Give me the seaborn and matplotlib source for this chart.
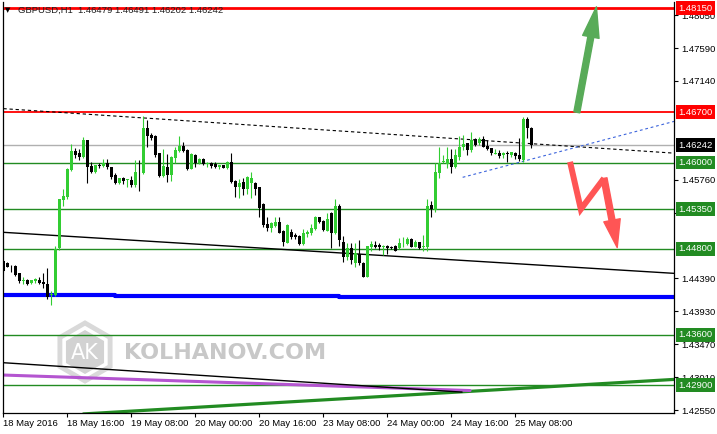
import numpy as np
import pandas as pd
import matplotlib
matplotlib.use("Agg")
import matplotlib.pyplot as plt
import seaborn as sns
from matplotlib.patches import RegularPolygon

# ---------------- data ----------------
symbol = "GBPUSD,H1"
header_ohlc = ["1.46479", "1.46491", "1.46202", "1.46242"]

opens = [1.44632, 1.44604, 1.44563, 1.44559, 1.44457, 1.44346, 1.44360, 1.44322, 1.44346, 1.44360,
         1.44336, 1.44314, 1.44150, 1.44154, 1.44805, 1.45478, 1.45516, 1.45897, 1.46157, 1.46138,
         1.46074, 1.46315, 1.45952, 1.45869, 1.45967, 1.45952, 1.45990, 1.45934, 1.45823, 1.45720,
         1.45781, 1.45753, 1.45757, 1.45684, 1.45860, 1.45851, 1.46478, 1.46384, 1.46370, 1.46129,
         1.45813, 1.45943, 1.45827, 1.46060, 1.46166, 1.46231, 1.46175, 1.45916, 1.46106, 1.45998,
         1.46050, 1.45985, 1.45990, 1.45976, 1.45943, 1.45963, 1.45920, 1.46012, 1.45748, 1.45656,
         1.45734, 1.45637, 1.45712, 1.45720, 1.45656, 1.45418, 1.45144, 1.45088, 1.45116, 1.45176,
         1.45050, 1.44883, 1.45036, 1.44990, 1.44976, 1.44865, 1.45004, 1.45013, 1.45074, 1.45235,
         1.45185, 1.45050, 1.45290, 1.45013, 1.45399, 1.44896, 1.44680, 1.44805, 1.44604, 1.44725,
         1.44604, 1.44409, 1.44818, 1.44851, 1.44851, 1.44827, 1.44841, 1.44827, 1.44837, 1.44805,
         1.44874, 1.44865, 1.44930, 1.44827, 1.44888, 1.44823, 1.44827, 1.45408, 1.45339, 1.45860,
         1.46012, 1.45980, 1.46047, 1.45943, 1.46083, 1.46213, 1.46268, 1.46175, 1.46324, 1.46268,
         1.46324, 1.46231, 1.46199, 1.46124, 1.46138, 1.46106, 1.46133, 1.46106, 1.46138, 1.46106,
         1.46036, 1.46607, 1.46479]
highs = [1.44645, 1.44614, 1.44576, 1.44568, 1.44465, 1.44409, 1.44384, 1.44370, 1.44392, 1.44409,
         1.44465, 1.44526, 1.44206, 1.44837, 1.45497, 1.45631, 1.45920, 1.46255, 1.46200, 1.46193,
         1.46361, 1.46315, 1.46012, 1.45967, 1.45998, 1.46047, 1.46047, 1.45943, 1.45860, 1.45790,
         1.45805, 1.45771, 1.45813, 1.46036, 1.46036, 1.46650, 1.46593, 1.46408, 1.46384, 1.46138,
         1.46185, 1.46120, 1.46092, 1.46221, 1.46370, 1.46287, 1.46185, 1.46138, 1.46115, 1.46068,
         1.46068, 1.46012, 1.46012, 1.46012, 1.45967, 1.45967, 1.46022, 1.46138, 1.45757, 1.45771,
         1.45781, 1.45813, 1.45873, 1.45734, 1.45664, 1.45432, 1.45245, 1.45176, 1.45237, 1.45237,
         1.45060, 1.45139, 1.45074, 1.45013, 1.44990, 1.45069, 1.45060, 1.45144, 1.45259, 1.45245,
         1.45199, 1.45300, 1.45315, 1.45492, 1.45422, 1.44976, 1.44874, 1.44883, 1.44883, 1.44920,
         1.44614, 1.44841, 1.44910, 1.44906, 1.44874, 1.44851, 1.44851, 1.44837, 1.44851, 1.44952,
         1.44967, 1.44967, 1.44944, 1.44920, 1.44896, 1.44990, 1.45488, 1.45464, 1.45998, 1.46221,
         1.46106, 1.46221, 1.46185, 1.46185, 1.46370, 1.46384, 1.46277, 1.46422, 1.46338, 1.46361,
         1.46370, 1.46315, 1.46208, 1.46185, 1.46175, 1.46152, 1.46166, 1.46152, 1.46152, 1.46338,
         1.46631, 1.46631, 1.46491]
lows = [1.44479, 1.44540, 1.44479, 1.44423, 1.44326, 1.44307, 1.44293, 1.44314, 1.44322, 1.44314,
        1.44247, 1.44105, 1.44011, 1.44140, 1.44781, 1.45394, 1.45488, 1.45888, 1.46060, 1.46036,
        1.46060, 1.45720, 1.45851, 1.45860, 1.45929, 1.45943, 1.45911, 1.45768, 1.45702, 1.45702,
        1.45702, 1.45660, 1.45656, 1.45665, 1.45604, 1.45842, 1.46213, 1.46315, 1.46083, 1.45805,
        1.45805, 1.45734, 1.45747, 1.45991, 1.46152, 1.46152, 1.45897, 1.45906, 1.45934, 1.45980,
        1.45967, 1.45934, 1.45920, 1.45920, 1.45916, 1.45925, 1.45911, 1.45712, 1.45516, 1.45502,
        1.45545, 1.45559, 1.45502, 1.45545, 1.45245, 1.45098, 1.45050, 1.45036, 1.45106, 1.45013,
        1.44837, 1.44874, 1.44930, 1.44930, 1.44855, 1.44855, 1.44967, 1.44995, 1.45060, 1.45153,
        1.45050, 1.45041, 1.44813, 1.45004, 1.44837, 1.44610, 1.44642, 1.44586, 1.44549, 1.44572,
        1.44405, 1.44405, 1.44771, 1.44805, 1.44781, 1.44711, 1.44725, 1.44791, 1.44762, 1.44791,
        1.44827, 1.44851, 1.44818, 1.44818, 1.44791, 1.44771, 1.44771, 1.45245, 1.45315, 1.45781,
        1.45990, 1.45920, 1.45851, 1.45920, 1.46036, 1.46175, 1.46106, 1.46152, 1.46231, 1.46245,
        1.46213, 1.46175, 1.46106, 1.46120, 1.46060, 1.46060, 1.46012, 1.46074, 1.46047, 1.46026,
        1.46012, 1.46346, 1.46202]
closes = [1.44493, 1.44549, 1.44554, 1.44437, 1.44353, 1.44360, 1.44314, 1.44360, 1.44374, 1.44322,
          1.44307, 1.44127, 1.44174, 1.44791, 1.45488, 1.45534, 1.45906, 1.46161, 1.46101, 1.46083,
          1.46315, 1.45943, 1.45873, 1.45963, 1.45952, 1.45998, 1.45934, 1.45805, 1.45720, 1.45781,
          1.45739, 1.45767, 1.45684, 1.45869, 1.45851, 1.46478, 1.46370, 1.46346, 1.46106, 1.45813,
          1.45952, 1.45827, 1.46083, 1.46175, 1.46231, 1.46166, 1.45906, 1.46115, 1.45998, 1.46050,
          1.45980, 1.45990, 1.45957, 1.45934, 1.45963, 1.45929, 1.46012, 1.45734, 1.45664, 1.45720,
          1.45628, 1.45805, 1.45781, 1.45637, 1.45362, 1.45130, 1.45088, 1.45153, 1.45176, 1.45022,
          1.44896, 1.45130, 1.44967, 1.44967, 1.44865, 1.45022, 1.45036, 1.45092, 1.45235, 1.45175,
          1.45060, 1.45213, 1.45022, 1.45399, 1.44920, 1.44680, 1.44805, 1.44642, 1.44735, 1.44596,
          1.44409, 1.44837, 1.44860, 1.44827, 1.44818, 1.44841, 1.44805, 1.44813, 1.44771, 1.44883,
          1.44883, 1.44930, 1.44827, 1.44896, 1.44813, 1.44830, 1.45394, 1.45348, 1.45873, 1.45998,
          1.46026, 1.46047, 1.45943, 1.46106, 1.46221, 1.46259, 1.46175, 1.46315, 1.46245, 1.46324,
          1.46221, 1.46185, 1.46129, 1.46129, 1.46092, 1.46138, 1.46124, 1.46143, 1.46092, 1.46047,
          1.46607, 1.46478, 1.46242]

date_labels = ["18 May 2016", "18 May 16:00", "19 May 08:00", "20 May 00:00", "20 May 16:00",
               "23 May 08:00", "24 May 00:00", "24 May 16:00", "25 May 08:00"]
date_label_bars = [0, 16, 32, 48, 64, 80, 96, 112, 128]

price_ticks = [1.48050, 1.47590, 1.47140, 1.45760, 1.45300, 1.44390, 1.43930,
               1.43470, 1.43010, 1.42550]

levels = [1.48150, 1.46700, 1.46242, 1.46000, 1.45350, 1.44800, 1.43600, 1.42900]
level_line_colors = ["#ff0000", "#ff0000", "#b0b0b0", "#228b22", "#228b22", "#228b22", "#228b22", "#228b22"]
level_box_colors = ["#ff0000", "#ff0000", "#000000", "#228b22", "#228b22", "#228b22", "#228b22", "#228b22"]

# trend lines (bar index, price)
resist_x, resist_y = [0.0, 167.7], [1.46751, 1.46131]
support_x, support_y = [114.85, 167.7], [1.45794, 1.46573]
chan_x, chan_y = [-0.1, 167.7], [1.45028, 1.44456]
ma_x = [-0.1, 27.9, 27.9, 83.8, 83.8, 167.7]
ma_y = [1.44160, 1.44160, 1.44146, 1.44146, 1.44133, 1.44133]
low_black_x, low_black_y = [-0.1, 114.7], [1.43211, 1.42801]
purple_x, purple_y = [-0.1, 116.7], [1.43039, 1.42823]
rise_x, rise_y = [20.0, 167.7], [1.42497, 1.42978]

# forecast arrows (bar index, price)
up_arrow = [(143.4, 1.46700), (148.3, 1.48170)]
down_path = [(141.7, 1.46010), (144.4, 1.45350), (150.2, 1.45780), (153.5, 1.44815)]

# ---------------- figure ----------------
sns.set_style("white")
plt.rcParams['font.family'] = ['Liberation Sans', 'DejaVu Sans']

W, H = 717, 434
fig = plt.figure(figsize=(W / 100, H / 100), dpi=100)
fig.patch.set_facecolor("white")

# underlay axes for the watermark (pixel coordinates)
pix = fig.add_axes([0, 0, 1, 1], zorder=0)
pix.set_xlim(0, W)
pix.set_ylim(H, 0)
pix.axis("off")
pix.add_patch(RegularPolygon((85, 352), numVertices=6, radius=29, fill=False,
                             edgecolor="#d9d9d9", lw=3.5))
pix.add_patch(RegularPolygon((85, 352), numVertices=6, radius=22,
                             facecolor="#d2d2d2", edgecolor="none"))
pix.text(85, 353, "AK", color="white", fontsize=15, ha="center", va="center",
         family="DejaVu Sans")
pix.text(124, 353, "KOLHANOV.COM", color="#c8c8c8", fontsize=16, ha="left",
         va="center", family="DejaVu Sans", fontweight="bold")

ax = fig.add_axes([3 / W, 21 / H, 671 / W, 411 / H], zorder=1)
ax.patch.set_alpha(0)
ax.set_xlim(-0.1, 167.7)
ax.set_ylim(1.42510, 1.48237)

# level lines
for lv, lc in zip(levels, level_line_colors):
    lw = 2.0 if lv == levels[0] else (1.3 if lc == "#ff0000" else 1.0)
    ax.axhline(lv, color=lc, lw=lw, zorder=1)

# trend lines via seaborn
sns.lineplot(x=rise_x, y=rise_y, ax=ax, color="#228b22", lw=2.3, estimator=None, sort=False)
sns.lineplot(x=purple_x, y=purple_y, ax=ax, color="#b455d0", lw=2.2, estimator=None, sort=False)
sns.lineplot(x=low_black_x, y=low_black_y, ax=ax, color="black", lw=1.0, estimator=None, sort=False)
sns.lineplot(x=ma_x, y=ma_y, ax=ax, color="#0000ff", lw=3.0, estimator=None, sort=False)
sns.lineplot(x=chan_x, y=chan_y, ax=ax, color="black", lw=1.0, estimator=None, sort=False)
sns.lineplot(x=resist_x, y=resist_y, ax=ax, color="black", lw=0.8, linestyle=(0, (3, 2.5)),
             estimator=None, sort=False)
sns.lineplot(x=support_x, y=support_y, ax=ax, color="#3c64dc", lw=0.8, linestyle=(0, (2.5, 2.5)),
             estimator=None, sort=False)

# candles
df = pd.DataFrame({"bar": np.arange(len(opens)), "open": opens, "high": highs,
                   "low": lows, "close": closes})
up = df["close"] >= df["open"]
cols = np.where(up, "#32cd32", "#000000")
ax.vlines(df["bar"], df["low"], df["high"], colors=cols, lw=0.8, zorder=3)
body_bottom = np.minimum(df["open"], df["close"])
body_h = np.maximum((df["close"] - df["open"]).abs(), 0.00010)
ax.bar(df["bar"], body_h, bottom=body_bottom, width=0.78, color=cols, linewidth=0, zorder=4)

# arrows
ax.annotate("", xy=up_arrow[1], xytext=up_arrow[0],
            arrowprops=dict(arrowstyle="simple,head_width=12,head_length=22,tail_width=4.3",
                            mutation_scale=1, color="#58ab58", shrinkA=0, shrinkB=0), zorder=6)
dx = [p[0] for p in down_path[:3]]
dy = [p[1] for p in down_path[:3]]
ax.plot(dx, dy, color="#ff5555", lw=4.3, solid_joinstyle="miter", solid_capstyle="butt", zorder=6)
ax.annotate("", xy=down_path[3], xytext=down_path[2],
            arrowprops=dict(arrowstyle="simple,head_width=12,head_length=20,tail_width=4.3",
                            mutation_scale=1, color="#ff5555", shrinkA=0, shrinkB=0), zorder=6)

# axes styling
for s in ["left", "right", "bottom"]:
    ax.spines[s].set_visible(True)
    ax.spines[s].set_color("black")
    ax.spines[s].set_linewidth(0.9)
ax.spines["top"].set_visible(False)

ax.yaxis.tick_right()
ax.set_yticks(price_ticks)
ax.set_yticklabels([f"{t:.5f}" for t in price_ticks])
ax.tick_params(axis="y", direction="out", length=3, width=0.8, pad=2.2, labelsize=6.8,
               colors="black", left=False, right=True)
ax.set_xticks(date_label_bars)
ax.set_xticklabels(date_labels)
ax.tick_params(axis="x", direction="out", length=3, width=0.8, pad=1.5, labelsize=6.8,
               colors="black", bottom=True)
for lab in ax.get_xticklabels():
    lab.set_ha("left")
ax.set_xlabel("")
ax.set_ylabel("")

# price boxes on the right axis
for lv, bc in zip(levels, level_box_colors):
    ax.text(1 + 4.5 / 671, lv, f"{lv:.5f}", transform=ax.get_yaxis_transform(),
            ha="left", va="center", fontsize=6.8, color="white", clip_on=False, zorder=10,
            bbox=dict(boxstyle="square,pad=0.25", facecolor=bc, edgecolor="none"))

# header
fig.text(5 / W, 1 - 10 / H, "\u25bc", fontsize=5, va="center", ha="left",
         family="DejaVu Sans", color="black")
fig.text(18 / W, 1 - 10 / H, f"{symbol}  " + " ".join(header_ohlc), fontsize=6.8,
         va="center", ha="left", color="#202020")

fig.savefig("out.png", dpi=100)
